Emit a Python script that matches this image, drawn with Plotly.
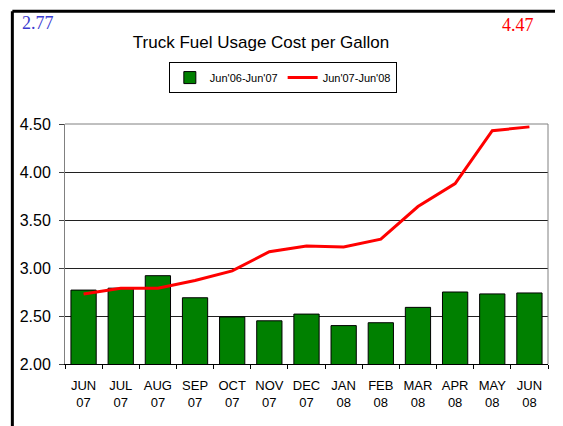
import plotly.graph_objects as go

months = ["JUN<br>07", "JUL<br>07", "AUG<br>07", "SEP<br>07", "OCT<br>07", "NOV<br>07",
          "DEC<br>07", "JAN<br>08", "FEB<br>08", "MAR<br>08", "APR<br>08", "MAY<br>08", "JUN<br>08"]
prev_year = [2.77, 2.79, 2.92, 2.69, 2.49, 2.45, 2.52, 2.40, 2.43, 2.59, 2.75, 2.73, 2.74]
curr_year = [2.73, 2.79, 2.79, 2.87, 2.97, 3.17, 3.23, 3.22, 3.30, 3.64, 3.88, 4.43, 4.47]
first_label = "2.77"
last_label = "4.47"

fig = go.Figure()
fig.add_trace(go.Bar(
    x=months, y=prev_year, name="Jun'06-Jun'07",
    marker=dict(color="#008000", line=dict(color="black", width=1)),
))
fig.add_trace(go.Scatter(
    x=months, y=curr_year, name="Jun'07-Jun'08", mode="lines",
    line=dict(color="#ff0000", width=3),
))

font_sans = "Liberation Sans, Arial, sans-serif"
font_serif = "Liberation Serif, Times New Roman, serif"

fig.update_layout(
    width=555, height=418,
    margin=dict(l=54, r=15, t=116, b=62),
    paper_bgcolor="white", plot_bgcolor="white",
    bargap=0.32,
    font=dict(family=font_sans, color="black"),
    title=dict(text="Truck Fuel Usage Cost per Gallon", x=0.4559, y=0.9187,
               xanchor="center", yanchor="middle", xref="container", yref="container",
               font=dict(size=17, color="black", family=font_sans)),
    legend=dict(orientation="h", x=0.451, y=1.258, xanchor="center", yanchor="top",
                bordercolor="black", borderwidth=1, bgcolor="white",
                font=dict(size=11, family=font_sans), itemwidth=30,
                tracegroupgap=0),
    showlegend=True,
    xaxis=dict(type="category", showgrid=False, showline=True, linecolor="black", linewidth=1,
               ticks="outside", tickson="boundaries", ticklen=4, tickcolor="black",
               ticklabelstandoff=9, tickangle=0,
               tickfont=dict(size=13, family=font_sans), mirror=False),
    yaxis=dict(range=[2, 4.5], dtick=0.5, tickformat=".2f", showgrid=True,
               gridcolor="#202020", gridwidth=1, showline=True, linecolor="#808080",
               ticks="outside", ticklen=5, tickcolor="#404040",
               ticklabelstandoff=5,
               tickfont=dict(size=16, family=font_sans), zeroline=False),
    annotations=[
        dict(text=first_label, x=-0.056, y=1.42, xref="paper", yref="paper",
             xanchor="center", yanchor="middle",
             showarrow=False, font=dict(size=18, color="#3a3ad0", family=font_serif)),
        dict(text=last_label, x=0.937, y=1.412, xref="paper", yref="paper",
             xanchor="center", yanchor="middle",
             showarrow=False, font=dict(size=18, color="#ff0000", family=font_serif)),
    ],
    shapes=[
        dict(type="line", xref="paper", yref="paper", x0=0, x1=1, y0=1, y1=1,
             line=dict(color="#808080", width=1)),
        dict(type="line", xref="paper", yref="paper", x0=1, x1=1, y0=0, y1=1,
             line=dict(color="#808080", width=1)),
        dict(type="line", xref="paper", yref="paper", x0=-0.109, x1=-0.109, y0=-0.5, y1=1.47,
             line=dict(color="black", width=3)),
        dict(type="line", xref="paper", yref="paper", x0=-0.109, x1=1.2, y0=1.47, y1=1.47,
             line=dict(color="black", width=3)),
    ],
)

fig.write_html("out.html")
